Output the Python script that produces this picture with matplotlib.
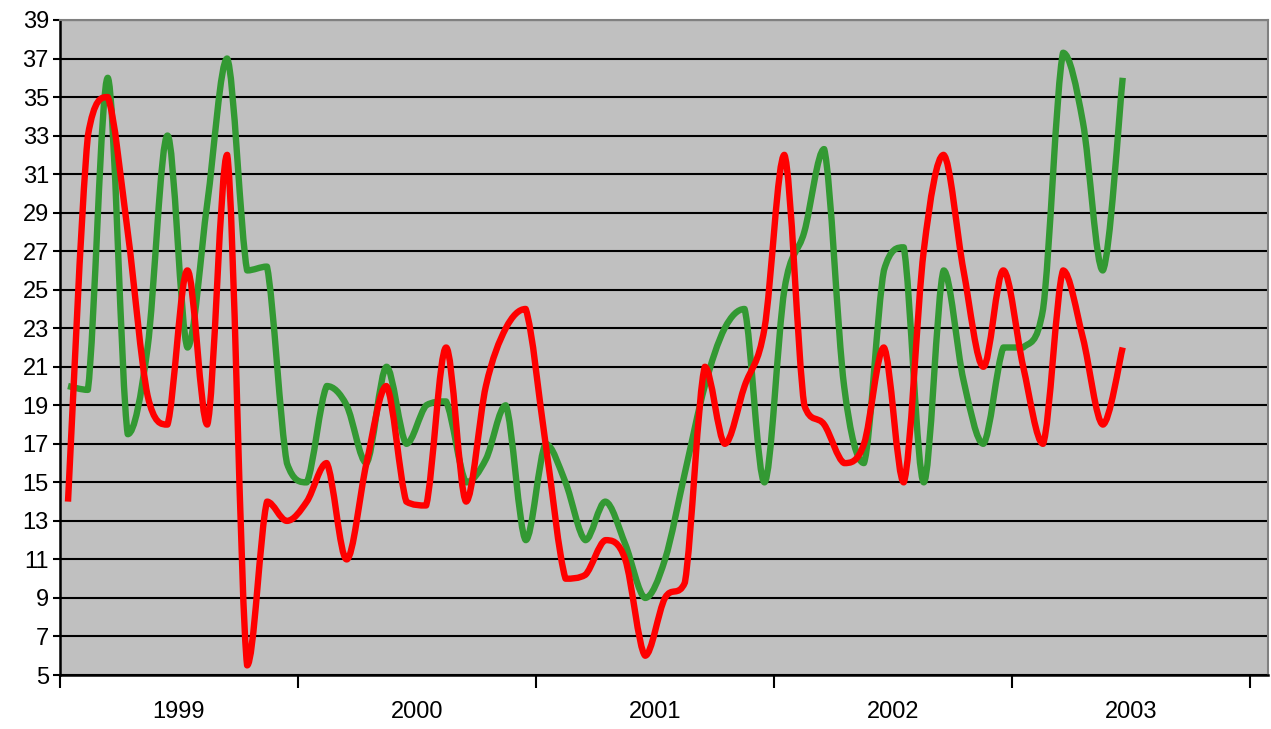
"""Two monthly series 1999-2003, Excel-style smoothed lines on a grey plot area."""
import matplotlib
matplotlib.use("Agg")
import matplotlib.pyplot as plt
import numpy as np
from matplotlib.patches import PathPatch
from matplotlib.path import Path


YEARS = ["1999", "2000", "2001", "2002", "2003"]
Y_TICKS = list(range(5, 40, 2))

RED = [14, 33, 35, 28, 19.5, 18, 26, 18, 32, 5.5,
       14, 13, 14, 16, 11, 16, 20, 14, 13.8, 22,
       14, 20, 23, 24, 17, 10, 10.2, 12, 11, 6,
       9, 9.8, 21, 17, 20, 23, 32, 19, 18, 16,
       17, 22, 15, 27, 32, 26, 21, 26, 21, 17,
       26, 22.5, 18, 22]

GREEN = [20, 19.8, 36, 17.5, 22, 33, 22, 29.5, 37, 26,
         26.2, 16, 15, 20, 19, 16, 21, 17, 19, 19.2,
         15, 16.2, 19, 12, 17, 15, 12, 14, 11.8, 9,
         11, 15.5, 20, 23, 24, 15, 25, 28, 32.3, 20,
         16, 26, 27.2, 15, 26, 20.3, 17, 22, 22, 24,
         37.3, 33.7, 26, 36]


def smooth_path(xs, ys, t=1.0 / 6.0):
    # Catmull-Rom style Bezier through every point; control points are kept
    # inside each segment's value range so flat runs don't dip
    p = np.column_stack([xs, ys]).astype(float)
    n = len(p)
    verts = [p[0]]
    codes = [Path.MOVETO]
    for i in range(n - 1):
        p_prev = p[i - 1] if i > 0 else p[i]
        p_next2 = p[i + 2] if i + 2 < n else p[i + 1]
        c1 = p[i] + (p[i + 1] - p_prev) * t
        c2 = p[i + 1] - (p_next2 - p[i]) * t
        lo, hi = sorted((p[i, 1], p[i + 1, 1]))
        c1[1] = np.clip(c1[1], lo, hi)
        c2[1] = np.clip(c2[1], lo, hi)
        verts += [c1, c2, p[i + 1]]
        codes += [Path.CURVE4] * 3
    return Path(verts, codes)


def main():
    plt.rcParams["font.family"] = ["Liberation Sans", "DejaVu Sans"]
    fig = plt.figure(figsize=(12.71, 7.29), dpi=100)
    ax = fig.add_axes([60 / 1271, 54 / 729, 1208 / 1271, 655 / 729])
    ax.set_facecolor("#C0C0C0")

    # category axis: one slot per year, ticks between slots
    ax.set_xlim(0, 5 * 1208 / 1190)
    ax.set_ylim(5, 39)
    ax.set_xticks(range(6))
    ax.set_xticklabels([])
    ax.set_xticks([i + 0.5 for i in range(5)], minor=True)
    ax.set_xticklabels(YEARS, minor=True, fontsize=17)
    ax.tick_params(axis="x", which="major", length=9, width=1.5, color="black")
    ax.tick_params(axis="x", which="minor", length=0, pad=19)
    ax.set_yticks(Y_TICKS)
    ax.set_yticklabels([str(v) for v in Y_TICKS], fontsize=17)
    ax.tick_params(axis="y", length=5, width=1.5, pad=3)

    ax.yaxis.grid(True, color="black", linewidth=1.5)
    ax.set_axisbelow(True)
    for side in ("left", "bottom"):
        ax.spines[side].set_linewidth(1.8)
        ax.spines[side].set_color("black")
    for side in ("top", "right"):
        ax.spines[side].set_linewidth(1.5)
        ax.spines[side].set_color("#808080")

    # the series sit on their own monthly axis
    ax2 = ax.twiny()
    n = len(RED)
    step = 19.9
    ax2.set_xlim(-8 / step, (1268 - 68) / step)
    ax2.set_ylim(5, 39)
    ax2.axis("off")
    months = np.arange(n)
    for vals, col in ((GREEN, "#339933"), (RED, "#FF0000")):
        patch = PathPatch(smooth_path(months, vals), facecolor="none",
                          edgecolor=col, linewidth=4.6, capstyle="butt",
                          joinstyle="round")
        ax2.add_patch(patch)

    fig.savefig("out.png", dpi=100)


if __name__ == "__main__":
    main()
